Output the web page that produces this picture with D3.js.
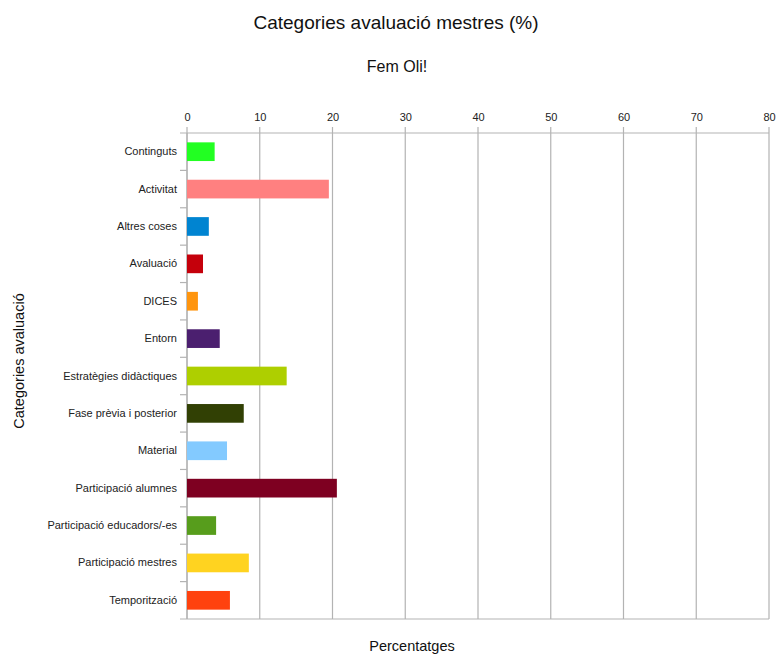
<!DOCTYPE html>
<html>
<head>
<meta charset="utf-8">
<script src="https://cdn.jsdelivr.net/npm/d3@7"></script>
<style>
  html, body { margin: 0; padding: 0; background: #fff; }
  svg { display: block; font-family: "Liberation Sans", Arial, sans-serif; }
</style>
</head>
<body>
<svg id="chart" width="777" height="654"></svg>
<script>
// Categories and their percentages
const categories = [
  "Continguts", "Activitat", "Altres coses", "Avaluació", "DICES", "Entorn",
  "Estratègies didàctiques", "Fase prèvia i posterior", "Material",
  "Participació alumnes", "Participació educadors/-es", "Participació mestres",
  "Temporització"
];
const values = [3.8, 19.5, 3.0, 2.2, 1.5, 4.5, 13.7, 7.8, 5.5, 20.6, 4.0, 8.5, 5.9];
const colors = [
  "#22ff22", "#ff8080", "#0084d1", "#c5000b", "#ff950e", "#4b1f6f",
  "#aecf00", "#314004", "#83caff", "#7e0021", "#579d1c", "#ffd320", "#ff420e"
];
const xTicks = [0, 10, 20, 30, 40, 50, 60, 70, 80];

const svg = d3.select("#chart");
const plot = { left: 187, right: 769, top: 133, bottom: 619 };
const grid = "#b3b3b3";

const x = d3.scaleLinear().domain([0, 80]).range([plot.left, plot.right]);
const y = d3.scaleBand().domain(categories).range([plot.top, plot.bottom]).paddingInner(0.5).paddingOuter(0.25);
const band = (plot.bottom - plot.top) / categories.length;

// Vertical grid lines
svg.append("g").selectAll("line").data(xTicks).join("line")
  .attr("x1", d => x(d)).attr("x2", d => x(d))
  .attr("y1", plot.top - 6).attr("y2", plot.bottom)
  .attr("stroke", grid).attr("stroke-width", 1.2);

// Top and bottom frame lines
[plot.top, plot.bottom].forEach(yy => svg.append("line")
  .attr("x1", plot.left - 7).attr("x2", plot.right).attr("y1", yy).attr("y2", yy)
  .attr("stroke", grid).attr("stroke-width", 1.2));

// Left axis line and category separators
svg.append("line").attr("x1", plot.left).attr("x2", plot.left).attr("y1", plot.top).attr("y2", plot.bottom)
  .attr("stroke", grid).attr("stroke-width", 1.2);
svg.append("g").selectAll("line").data(d3.range(1, categories.length)).join("line")
  .attr("x1", plot.left - 7).attr("x2", plot.left)
  .attr("y1", i => plot.top + i * band).attr("y2", i => plot.top + i * band)
  .attr("stroke", grid).attr("stroke-width", 1.2);

// Top axis tick labels
const xAxis = d3.axisTop(x).tickValues(xTicks).tickSize(0).tickPadding(0);
const gx = svg.append("g").attr("transform", `translate(0,${plot.top - 12})`).call(xAxis);
gx.select(".domain").remove();
gx.selectAll("text").attr("font-size", 11).attr("fill", "#222")
  .attr("font-family", "Liberation Sans, Arial, sans-serif");

// Category labels
const yAxis = d3.axisLeft(y).tickSize(0).tickPadding(0);
const gy = svg.append("g").attr("transform", `translate(${plot.left - 10},0)`).call(yAxis);
gy.select(".domain").remove();
gy.selectAll("text").attr("font-size", 11).attr("fill", "#222")
  .attr("font-family", "Liberation Sans, Arial, sans-serif");

// Bars
svg.append("g").selectAll("rect").data(categories).join("rect")
  .attr("x", x(0))
  .attr("y", d => y(d))
  .attr("width", (d, i) => x(values[i]) - x(0))
  .attr("height", y.bandwidth())
  .attr("fill", (d, i) => colors[i]);

// Titles
svg.append("text").attr("x", 396).attr("y", 29).attr("text-anchor", "middle")
  .attr("font-size", 19).attr("fill", "#111").text("Categories avaluació mestres (%)");
svg.append("text").attr("x", 397).attr("y", 72).attr("text-anchor", "middle")
  .attr("font-size", 16).attr("fill", "#111").text("Fem Oli!");
svg.append("text").attr("x", 412).attr("y", 651).attr("text-anchor", "middle")
  .attr("font-size", 14.5).attr("fill", "#111").text("Percentatges");
svg.append("text").attr("transform", "translate(24,361) rotate(-90)").attr("text-anchor", "middle")
  .attr("font-size", 14.5).attr("fill", "#111").text("Categories avaluació");
</script>
</body>
</html>
